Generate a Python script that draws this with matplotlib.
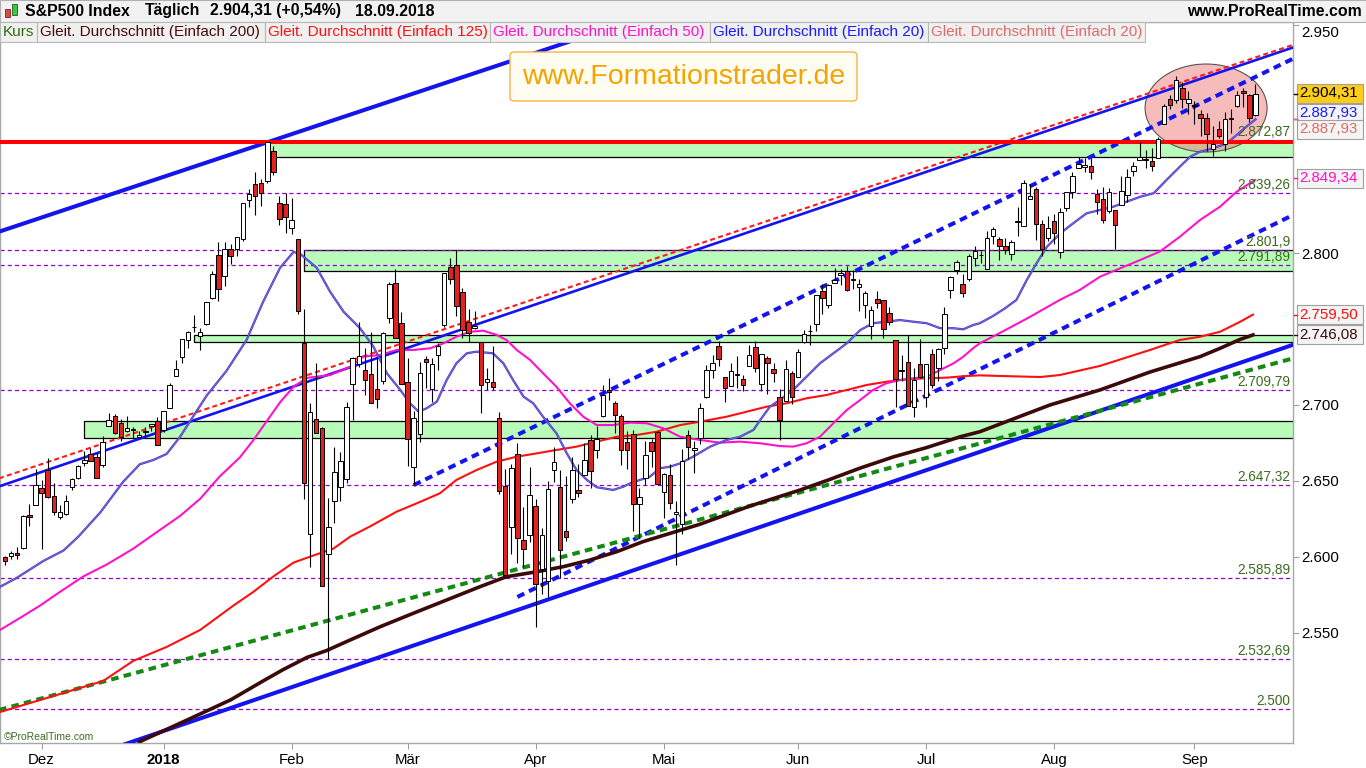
# S&P500 Tageschart 22.11.2017 - 18.09.2018 (ProRealTime-Stil)

import numpy as np
import pandas as pd
import matplotlib
matplotlib.use("Agg")
import matplotlib.pyplot as plt
import matplotlib.transforms as mtransforms
from matplotlib.patches import Rectangle, Ellipse, FancyBboxPatch

plt.rcParams['font.family'] = ['Liberation Sans', 'DejaVu Sans']
plt.rcParams['lines.scale_dashes'] = False

# Handelstage
feiertage = ["2017-11-23", "2017-12-25", "2018-01-01", "2018-01-15", "2018-02-19",
             "2018-03-30", "2018-05-28", "2018-07-04", "2018-09-03"]
tage = pd.bdate_range("2017-11-22", "2018-09-18", freq="C", holidays=feiertage)

# Kurse (Eroeffnung, Hoch, Tief, Schluss) pro Monat
eroeffnung = [
    2600.3, 2600.4, 2602.7, 2605.9, 2627.8, 2633.9,
    2645.1, 2657.2, 2639.8, 2626.2, 2628.4, 2646.2, 2652.2, 2661.7, 2667.6, 2665.9, 2660.6, 2685.9, 2692.7, 2688.2, 2683.0, 2684.2, 2679.1, 2682.1, 2686.1, 2689.2,
    2683.7, 2697.9, 2719.3, 2731.3, 2742.7, 2751.2, 2745.6, 2753.0, 2770.2, 2799.0, 2785.0, 2802.4, 2802.6, 2809.2, 2835.1, 2845.4, 2846.2, 2847.5, 2867.2, 2832.7, 2832.4,
    2816.5, 2808.9, 2741.1, 2614.8, 2691.0, 2685.0, 2601.8, 2636.8, 2646.3, 2651.2, 2713.5, 2727.1, 2723.0, 2720.5, 2710.4, 2715.8, 2757.4, 2780.5, 2753.8,
    2715.2, 2658.9, 2681.1, 2730.2, 2710.2, 2732.8, 2752.9, 2790.5, 2792.3, 2774.1, 2754.3, 2750.6, 2741.4, 2715.1, 2715.0, 2691.4, 2646.7, 2619.4, 2667.6, 2611.3, 2614.4,
    2633.5, 2592.2, 2584.0, 2657.4, 2645.8, 2617.2, 2638.4, 2643.9, 2653.8, 2676.9, 2670.1, 2692.7, 2710.1, 2701.2, 2692.6, 2675.4, 2680.8, 2634.9, 2651.7, 2675.5, 2682.5,
    2643.0, 2654.2, 2628.1, 2621.5, 2680.3, 2670.3, 2678.1, 2705.0, 2722.7, 2738.5, 2718.6, 2712.6, 2719.7, 2717.4, 2725.7, 2738.3, 2714.0, 2730.9, 2723.6, 2705.1, 2702.4, 2721.0,
    2718.7, 2741.7, 2748.5, 2753.3, 2774.8, 2765.8, 2780.2, 2785.6, 2787.9, 2783.2, 2777.8, 2765.8, 2752.0, 2769.7, 2769.3, 2760.8, 2742.9, 2722.1, 2728.5, 2698.7, 2727.1,
    2705.0, 2733.3, 2724.2, 2737.7, 2775.6, 2788.6, 2779.8, 2783.1, 2796.9, 2798.4, 2789.3, 2811.4, 2809.4, 2804.6, 2799.2, 2820.7, 2817.7, 2835.5, 2842.4, 2819.0, 2809.7,
    2821.2, 2800.5, 2829.6, 2840.3, 2855.9, 2856.8, 2857.2, 2838.9, 2835.5, 2827.9, 2828.0, 2831.4, 2838.3, 2853.9, 2861.5, 2861.0, 2860.3, 2862.4, 2884.7, 2901.5, 2900.6, 2908.9, 2898.4,
    2897.0, 2891.6, 2888.6, 2868.3, 2881.4, 2871.6, 2888.3, 2896.9, 2906.4, 2903.8, 2890.7,
]
hoch = [
    2600.9, 2604.2, 2606.4, 2627.7, 2634.9, 2657.7,
    2650.6, 2665.2, 2648.7, 2634.4, 2640.9, 2651.7, 2660.3, 2669.7, 2671.9, 2668.1, 2679.6, 2695.0, 2694.4, 2691.0, 2692.6, 2685.4, 2682.7, 2685.6, 2687.7, 2692.1,
    2695.9, 2714.4, 2729.3, 2743.5, 2748.5, 2759.1, 2750.8, 2767.6, 2787.9, 2807.5, 2807.0, 2805.8, 2810.3, 2833.0, 2842.2, 2853.0, 2848.6, 2872.9, 2870.6, 2837.8, 2839.3,
    2836.0, 2808.9, 2763.4, 2701.0, 2727.7, 2685.3, 2638.7, 2672.6, 2668.8, 2702.1, 2731.5, 2754.4, 2737.6, 2747.8, 2731.3, 2747.8, 2780.6, 2789.2, 2761.5,
    2730.9, 2696.3, 2728.1, 2732.1, 2730.6, 2740.5, 2786.6, 2797.0, 2801.9, 2777.1, 2763.0, 2761.9, 2741.4, 2724.2, 2739.1, 2695.7, 2657.7, 2661.4, 2674.8, 2632.7, 2659.1,
    2638.3, 2619.1, 2649.9, 2672.1, 2656.9, 2653.6, 2665.5, 2661.4, 2674.7, 2680.3, 2686.5, 2713.3, 2717.5, 2702.8, 2693.9, 2682.9, 2683.6, 2645.3, 2676.5, 2677.4, 2682.9,
    2655.3, 2660.9, 2637.1, 2670.9, 2683.4, 2676.3, 2701.3, 2726.1, 2732.9, 2742.1, 2718.6, 2727.8, 2732.0, 2719.5, 2739.2, 2742.2, 2733.3, 2732.0, 2727.4, 2710.7, 2729.3, 2722.5,
    2736.9, 2749.2, 2752.6, 2772.4, 2779.9, 2779.4, 2790.2, 2789.8, 2791.5, 2789.1, 2782.8, 2775.0, 2765.1, 2774.9, 2769.3, 2764.2, 2742.9, 2732.9, 2746.1, 2724.3, 2743.3,
    2727.3, 2736.6, 2737.8, 2764.4, 2784.7, 2795.6, 2785.9, 2799.2, 2804.5, 2801.2, 2814.2, 2816.8, 2810.5, 2809.7, 2808.6, 2830.0, 2848.0, 2845.6, 2843.2, 2821.7, 2824.5,
    2825.8, 2829.9, 2840.4, 2853.3, 2863.4, 2862.4, 2862.5, 2842.2, 2843.4, 2843.1, 2828.0, 2850.5, 2855.6, 2859.8, 2873.2, 2867.5, 2868.8, 2876.2, 2898.3, 2903.8, 2916.5, 2912.5, 2906.3,
    2900.2, 2894.2, 2892.1, 2883.8, 2886.9, 2892.5, 2894.7, 2906.8, 2908.3, 2904.7, 2911.2,
]
tief = [
    2594.9, 2598.5, 2598.9, 2605.4, 2620.3, 2633.9,
    2605.5, 2639.0, 2627.7, 2624.8, 2627.6, 2644.1, 2651.5, 2659.8, 2662.9, 2652.0, 2659.1, 2685.9, 2680.7, 2676.1, 2682.4, 2678.1, 2678.0, 2678.9, 2682.7, 2673.6,
    2682.4, 2697.8, 2719.1, 2727.9, 2737.6, 2747.9, 2736.1, 2752.8, 2769.6, 2768.6, 2778.4, 2792.6, 2798.1, 2808.1, 2830.6, 2824.8, 2830.9, 2846.2, 2851.5, 2818.3, 2813.0,
    2812.7, 2760.0, 2638.2, 2593.1, 2681.3, 2580.6, 2532.7, 2622.5, 2637.1, 2648.9, 2689.8, 2725.1, 2706.8, 2701.3, 2697.8, 2713.7, 2753.8, 2744.2, 2713.5,
    2659.7, 2647.3, 2675.8, 2711.3, 2701.7, 2722.7, 2751.5, 2779.3, 2758.7, 2744.4, 2741.5, 2750.0, 2694.6, 2710.1, 2709.8, 2641.6, 2585.9, 2601.8, 2596.1, 2593.1, 2609.7,
    2553.8, 2575.5, 2573.6, 2649.6, 2586.3, 2610.8, 2635.8, 2639.3, 2653.8, 2645.1, 2665.2, 2692.1, 2703.6, 2681.9, 2660.6, 2658.0, 2617.3, 2612.7, 2647.2, 2659.0, 2648.0,
    2625.4, 2631.7, 2594.6, 2615.3, 2664.7, 2655.2, 2674.1, 2704.5, 2717.5, 2725.5, 2701.9, 2712.2, 2711.4, 2709.2, 2725.7, 2721.9, 2709.5, 2707.4, 2715.0, 2676.8, 2702.4, 2700.7,
    2718.7, 2740.5, 2739.5, 2748.5, 2760.2, 2763.6, 2780.2, 2778.8, 2774.7, 2776.5, 2761.7, 2757.1, 2743.2, 2763.9, 2744.4, 2752.7, 2698.7, 2715.6, 2699.4, 2692.0, 2718.0,
    2699.0, 2711.2, 2716.0, 2733.5, 2770.7, 2786.2, 2770.8, 2781.5, 2791.7, 2793.4, 2789.2, 2805.9, 2795.6, 2799.6, 2795.1, 2811.1, 2817.7, 2835.3, 2808.3, 2798.1, 2808.1,
    2805.9, 2796.9, 2827.4, 2836.0, 2855.9, 2853.1, 2848.6, 2825.8, 2819.9, 2826.6, 2802.5, 2831.4, 2833.7, 2850.6, 2861.3, 2856.1, 2854.0, 2862.4, 2884.7, 2895.0, 2898.4, 2895.2, 2891.7,
    2885.1, 2876.9, 2867.3, 2864.1, 2875.9, 2866.8, 2879.2, 2896.4, 2895.8, 2886.2, 2890.4,
]
schluss = [
    2597.1, 2602.4, 2601.4, 2627.0, 2626.1, 2647.6,
    2642.2, 2639.4, 2629.6, 2629.3, 2636.9, 2651.5, 2660.0, 2664.1, 2662.9, 2652.0, 2675.8, 2690.2, 2681.5, 2679.1, 2684.6, 2683.3, 2680.5, 2682.6, 2687.5, 2673.6,
    2695.8, 2713.1, 2724.0, 2743.2, 2747.7, 2751.3, 2748.2, 2767.6, 2786.2, 2776.4, 2802.6, 2798.0, 2810.3, 2833.0, 2839.1, 2837.5, 2839.3, 2872.9, 2853.5, 2822.4, 2823.8,
    2822.0, 2762.1, 2648.9, 2695.1, 2681.7, 2581.0, 2619.6, 2656.0, 2662.9, 2698.6, 2731.2, 2732.2, 2716.3, 2701.3, 2704.0, 2747.3, 2779.6, 2744.3, 2713.8,
    2677.7, 2691.3, 2720.9, 2728.1, 2726.8, 2739.0, 2786.6, 2783.0, 2765.3, 2749.5, 2747.3, 2752.0, 2712.9, 2716.9, 2711.9, 2643.7, 2588.3, 2658.6, 2612.6, 2605.0, 2640.9,
    2581.9, 2614.5, 2644.7, 2662.8, 2604.5, 2613.2, 2656.9, 2642.2, 2664.0, 2656.3, 2677.8, 2706.4, 2708.6, 2693.1, 2670.1, 2670.3, 2634.6, 2639.4, 2666.9, 2669.9, 2648.1,
    2654.8, 2635.7, 2629.7, 2663.4, 2672.6, 2671.9, 2697.8, 2723.1, 2727.7, 2730.1, 2711.5, 2722.5, 2720.1, 2713.0, 2733.0, 2724.4, 2733.3, 2727.8, 2721.3, 2689.9, 2724.0, 2705.3,
    2734.6, 2746.9, 2748.8, 2772.4, 2770.4, 2779.0, 2782.0, 2786.9, 2775.6, 2782.5, 2779.7, 2773.8, 2762.6, 2767.3, 2749.8, 2754.9, 2717.1, 2723.1, 2699.6, 2716.3, 2718.4,
    2726.7, 2713.2, 2736.6, 2759.8, 2784.2, 2793.8, 2774.0, 2798.3, 2801.3, 2798.4, 2809.6, 2815.6, 2804.5, 2801.8, 2807.0, 2820.4, 2846.1, 2837.4, 2818.8, 2802.6, 2816.3,
    2813.4, 2827.2, 2840.4, 2850.4, 2858.5, 2857.7, 2853.6, 2833.3, 2821.9, 2840.0, 2818.4, 2840.7, 2850.1, 2857.1, 2863.0, 2861.8, 2857.0, 2874.7, 2896.7, 2897.5, 2914.0, 2901.1, 2901.5,
    2896.7, 2888.6, 2878.1, 2871.7, 2877.1, 2887.9, 2888.9, 2904.2, 2905.0, 2888.8, 2904.3,
]

# Gleitende Durchschnitte (Handelstag-Nr., Wert)
ma20_x = [-0.8, 1.9, 6.3, 9.6, 12.0, 15.6, 19.4, 22.1, 24.3, 26.5, 28.7, 30.9, 33.1, 36.3, 39.6, 42.3, 45.1, 47.3, 48.4, 51.1,
          53.3, 55.5, 58.2, 60.4, 62.6, 64.8, 66.4, 67.8, 69.1, 70.8, 72.4, 74.0, 75.7, 77.3, 80.0, 81.7, 83.3, 85.0, 86.6, 88.2,
          90.4, 92.1, 93.7, 95.4, 97.0, 99.7, 101.4, 102.5, 104.1, 105.7, 107.4, 109.0, 110.7, 112.8, 115.6, 118.3, 120.5, 122.7, 123.8, 125.4,
          127.0, 129.2, 131.4, 133.6, 135.8, 138.0, 140.2, 142.3, 144.5, 146.7, 148.9, 151.1, 153.3, 155.5, 157.1, 158.7, 159.8, 162.0, 164.0, 165.8,
          167.5, 169.1, 170.8, 173.0, 175.1, 177.3, 179.5, 181.7, 183.9, 186.1, 188.3, 190.4, 192.6, 194.3, 195.9, 198.1, 200.3, 201.9, 203.5, 205.0]
ma20_y = [2580.4, 2586.2, 2597.4, 2604.3, 2613.3, 2629.2, 2649.6, 2661.0, 2663.8, 2667.8, 2679.1, 2692.8, 2706.4, 2722.4, 2742.8, 2767.8, 2790.3, 2800.7, 2799.4, 2790.3,
          2774.5, 2761.4, 2750.5, 2738.4, 2720.9, 2709.9, 2701.1, 2695.6, 2697.8, 2702.2, 2716.4, 2727.4, 2734.0, 2735.1, 2734.0, 2727.4, 2716.4, 2705.5, 2701.1, 2692.3,
          2681.4, 2668.2, 2657.2, 2650.7, 2645.9, 2644.1, 2646.3, 2648.5, 2650.7, 2652.8, 2658.4, 2659.4, 2661.6, 2666.0, 2672.6, 2677.0, 2679.1, 2683.6, 2690.1, 2698.9,
          2703.3, 2709.9, 2718.6, 2727.4, 2734.0, 2740.6, 2749.3, 2753.8, 2754.8, 2755.9, 2754.8, 2753.8, 2750.5, 2750.5, 2749.8, 2752.6, 2753.8, 2758.6, 2763.8, 2769.1,
          2782.2, 2793.2, 2804.1, 2813.0, 2819.5, 2826.1, 2828.3, 2830.5, 2833.8, 2837.0, 2839.3, 2848.0, 2856.8, 2863.4, 2866.6, 2868.9, 2872.2, 2877.6, 2883.1, 2887.9]

ma50_x = [-0.8, 2.5, 5.7, 9.0, 12.8, 16.7, 21.0, 25.4, 28.7, 32.0, 35.2, 38.5, 40.7, 42.9, 45.1, 47.3, 49.5, 51.6, 53.3, 56.6,
          58.7, 61.5, 64.2, 66.9, 69.7, 71.9, 74.0, 76.2, 78.4, 80.6, 82.2, 83.9, 86.1, 88.2, 90.4, 92.6, 94.8, 97.0, 99.7, 102.5,
          105.2, 107.9, 110.7, 113.9, 117.2, 120.5, 123.8, 127.0, 129.2, 131.4, 133.6, 135.8, 138.0, 140.2, 142.3, 144.5, 146.7, 148.9, 151.1, 153.3,
          155.5, 157.1, 158.7, 159.8, 163.1, 168.0, 172.9, 176.2, 179.5, 182.8, 186.1, 189.3, 192.6, 195.9, 199.2, 201.9, 204.9]
ma50_y = [2552.0, 2560.0, 2567.9, 2577.0, 2587.1, 2595.1, 2605.4, 2617.8, 2627.0, 2638.3, 2653.0, 2665.5, 2676.8, 2689.3, 2701.8, 2712.0, 2717.8, 2718.9, 2719.7, 2725.2,
          2731.8, 2732.9, 2736.2, 2736.2, 2737.3, 2740.6, 2744.9, 2748.2, 2748.9, 2746.1, 2742.8, 2736.2, 2729.6, 2720.9, 2712.0, 2701.1, 2692.3, 2686.8, 2686.8, 2688.4,
          2688.0, 2684.7, 2679.1, 2677.0, 2675.2, 2675.9, 2674.8, 2673.0, 2672.6, 2674.8, 2679.1, 2688.0, 2696.7, 2703.3, 2709.9, 2714.3, 2716.4, 2717.6, 2718.6, 2723.0,
          2727.4, 2731.8, 2737.3, 2740.6, 2747.4, 2757.9, 2769.1, 2775.7, 2784.4, 2789.9, 2795.4, 2800.9, 2810.7, 2821.7, 2830.5, 2840.3, 2848.0]

ma125_x = [-0.8, 7.4, 16.1, 21.0, 26.5, 32.0, 37.4, 40.7, 44.0, 47.3, 50.5, 53.8, 56.6, 59.8, 64.2, 67.5, 71.3, 74.0, 77.3, 80.6,
           83.9, 87.2, 90.4, 93.7, 97.0, 100.3, 103.6, 106.8, 110.7, 113.9, 118.3, 121.6, 124.9, 128.1, 131.4, 134.7, 138.0, 141.3, 144.5, 147.8,
           151.1, 154.4, 157.7, 159.8, 163.1, 169.7, 172.9, 179.5, 187.7, 192.6, 195.9, 199.2, 202.5, 204.6]
ma125_y = [2498.0, 2507.9, 2518.4, 2531.6, 2540.8, 2552.0, 2567.9, 2577.0, 2587.2, 2596.3, 2600.9, 2605.4, 2613.4, 2620.0, 2629.8, 2635.3, 2641.9, 2650.7, 2657.2, 2662.7,
           2666.0, 2668.2, 2670.4, 2672.6, 2675.9, 2679.1, 2680.3, 2682.4, 2686.8, 2689.0, 2692.3, 2695.6, 2698.9, 2701.1, 2704.4, 2706.6, 2709.9, 2713.2, 2715.3, 2716.9,
           2717.6, 2718.0, 2719.1, 2719.5, 2719.1, 2718.4, 2719.7, 2725.7, 2736.2, 2742.8, 2744.9, 2748.2, 2754.8, 2759.5]

ma200_x = [22.0, 30.0, 37.0, 42.3, 45.6, 49.5, 52.7, 56.6, 61.5, 66.9, 72.4, 77.9, 82.2, 87.2, 91.5, 95.9, 100.3, 104.6, 109.0, 113.9,
           122.1, 130.3, 135.2, 140.2, 145.6, 151.1, 156.6, 159.8, 171.3, 179.5, 187.7, 195.9, 199.2, 202.5, 204.6]
ma200_y = [2478.3, 2493.0, 2506.0, 2518.4, 2525.9, 2533.9, 2538.4, 2545.4, 2554.1, 2562.9, 2571.7, 2580.5, 2587.0, 2590.3, 2593.6, 2598.0, 2603.5, 2610.1, 2615.5, 2621.5,
           2633.5, 2644.0, 2651.0, 2658.5, 2665.8, 2672.0, 2679.1, 2682.4, 2700.0, 2709.9, 2721.7, 2731.8, 2737.3, 2743.2, 2746.1]

# Trendlinien (Start-/Endpunkt: Handelstag, Kurs)
kanal_oben = ([-1, 110], [2814.0, 2962.5])
linie_mitte = ([-1, 212], [2646.4, 2936.4])
linie_rot = ([-1, 212], [2651.7, 2938.1])
gestr_oben = ([67, 212], [2647.3, 2929.5])
gestr_unten = ([84, 212], [2573.7, 2826.7])
kanal_unten = ([15, 212], [2470.4, 2740.8])
linie_gruen = ([-1, 212], [2499.3, 2731.6])

# Unterstuetzungszonen
zonen_start = [42.9, 49.0, 31.0, 13.0]
zonen_unten = [2863.5, 2788.0, 2741.6, 2678.0]
zonen_oben = [2872.87, 2801.9, 2745.8, 2689.5]

# Horizontale Marken
widerstand = 2872.87
niveaus = [2839.26, 2801.9, 2791.89, 2709.79, 2647.32, 2585.89, 2532.69, 2500.0]
niveau_texte = ["2.839,26", "2.801,9", "2.791,89", "2.709,79", "2.647,32", "2.585,89", "2.532,69", "2.500"]

monats_texte = ["Dez", "2018", "Feb", "Mär", "Apr", "Mai", "Jun", "Jul", "Aug", "Sep"]
# sichtbare Skalenwerte (die uebrigen liegen unter den Wertkaesten)
y_ticks = [2550, 2600, 2650, 2700, 2800, 2950]

# Wertkaesten rechts
rechts_werte = [2904.31, 2887.93, 2887.93, 2849.34, 2759.50, 2746.08]
rechts_farben = ["black", "#1a1aff", "#e06a6a", "#ff11cc", "#ff1010", "#3d0a0a"]
rechts_versatz = [-1, -6, 10, 0, 0, 0]


def deutsch(v, nd):
    s = f"{v:,.{nd}f}"
    return s.replace(",", "X").replace(".", ",").replace("X", ".")


W, H = 1366, 768
fig = plt.figure(figsize=(W / 100, H / 100), dpi=100)
fig.patch.set_facecolor("white")


def fx(px):
    return px / W


def fy(py):
    return 1 - py / H


ax = fig.add_axes([0, fy(743), fx(1293), (743 - 22) / H])
ax.set_xlim(-0.82, 211.15)
ax.set_ylim(2477.6, 2952.0)
for s in ax.spines.values():
    s.set_color("#a8a8a8")
    s.set_linewidth(1)

n = len(schluss)
t = np.arange(n)
o = np.array(eroeffnung)
h = np.array(hoch)
l = np.array(tief)
c = np.array(schluss)

# Zonen
for x0, u, ob in zip(zonen_start, zonen_unten, zonen_oben):
    ax.add_patch(Rectangle((x0, u), 212 - x0, ob - u, facecolor="#b9fbb9",
                           edgecolor="black", linewidth=0.9, zorder=1))

# Niveaus
for v, txt in zip(niveaus, niveau_texte):
    ax.axhline(v, color="#9400d3", lw=0.9, ls=(0, (3.0, 2.2)), zorder=2)
    ax.annotate(txt, (1.0, v), xycoords=("axes fraction", "data"), xytext=(-2, 1),
                textcoords="offset points", ha="right", va="bottom",
                fontsize=9.8, color="#3d6b1f", zorder=6)
ax.annotate(deutsch(widerstand, 2), (1.0, widerstand), xycoords=("axes fraction", "data"),
            xytext=(-2, 2.5), textcoords="offset points", ha="right", va="bottom",
            fontsize=9.8, color="#3d6b1f", zorder=6)

# Ellipse
ax.add_patch(Ellipse((196.9, 2895.4), 20.0, 57.9, facecolor="#ee7272", alpha=0.48,
                     edgecolor="none", zorder=2.5))
ax.add_patch(Ellipse((196.9, 2895.4), 20.0, 57.9, facecolor="none",
                     edgecolor="#555555", linewidth=0.8, zorder=2.6))

# Trendlinien
blau = "#1414f0"
ax.plot(*kanal_oben, color=blau, lw=2.9, zorder=3)
ax.plot(*linie_mitte, color=blau, lw=1.9, zorder=3)
ax.plot(*linie_rot, color="#ff1a1a", lw=1.5, ls=(0, (3.6, 2.4)), zorder=3)
ax.plot(*gestr_oben, color=blau, lw=2.9, ls=(0, (5.5, 3.8)), zorder=3)
ax.plot(*gestr_unten, color=blau, lw=2.9, ls=(0, (5.5, 3.8)), zorder=3)
ax.plot(*kanal_unten, color=blau, lw=2.9, zorder=3)
ax.plot(*linie_gruen, color="#138a13", lw=2.9, ls=(0, (5.5, 3.8)), zorder=3)

# Gleitende Durchschnitte
ax.plot(ma200_x, ma200_y, color="#3d0a0a", lw=2.6, zorder=3.2)
ax.plot(ma125_x, ma125_y, color="#ff1010", lw=1.5, zorder=3.2)
ax.plot(ma50_x, ma50_y, color="#ff11cc", lw=1.5, zorder=3.2)
ax.plot(ma20_x, ma20_y, color="#2a3cf0", lw=1.6, zorder=3.3)
ax.plot(ma20_x, ma20_y, color="#e07a7a", lw=0.5, alpha=0.8, zorder=3.4)

# Widerstand
ax.axhline(widerstand, color="#ff0000", lw=2.9, zorder=3.5)

# Kerzen
farbe = np.where(c >= o, "white", "#e3221f")
ax.vlines(t, l, h, color="black", lw=0.8, zorder=4)
koerper = np.maximum(np.abs(c - o), 0.4)
ax.bar(t, koerper, bottom=np.minimum(o, c), width=0.74, color=farbe,
       edgecolor="black", linewidth=0.7, zorder=5)

# Achsen
monat = tage.month
monatsanfang = [i for i in range(1, n) if monat[i] != monat[i - 1]]
ax.set_xticks(monatsanfang)
ax.set_xticklabels(monats_texte)
ax.get_xticklabels()[1].set_fontweight("bold")
ax.tick_params(axis="x", length=4, color="#a0a0a0", pad=3, labelsize=10.8)
ax.yaxis.tick_right()
ax.set_yticks(y_ticks)
ax.set_yticklabels([deutsch(v, 0) for v in y_ticks])
ax.tick_params(axis="y", length=4, color="#a0a0a0", pad=2, labelsize=10.8)
oberstes = ax.get_yticklabels()[-1]
oberstes.set_transform(oberstes.get_transform() +
                       mtransforms.ScaledTranslation(0, -6 / 100, fig.dpi_scale_trans))

# Wertkaesten rechts
for v, fa, dv in zip(rechts_werte, rechts_farben, rechts_versatz):
    yp = ax.transData.transform((0, v))[1] - dv
    gold = fa == "black"
    fig.add_artist(Rectangle((fx(1297), (yp - 9.5) / H), 66 / W, 19 / H,
                             transform=fig.transFigure,
                             facecolor="#ffcc1a" if gold else "#f4f4f4",
                             edgecolor="#a0a0a0", linewidth=0.8, zorder=5))
    fig.text(fx(1299.5), yp / H, deutsch(v, 2), color=fa, fontsize=10.8,
             va="center", ha="left", zorder=6)
    yl = ax.transData.transform((0, v))[1]
    fig.add_artist(plt.Line2D([fx(1294), fx(1297)], [yl / H, yl / H],
                              transform=fig.transFigure, color=fa, lw=1, zorder=6))

# Titelzeile
fig.add_artist(Rectangle((0, fy(22)), 1, 22 / H, transform=fig.transFigure,
                         facecolor="#f2f2f2", edgecolor="#b0b0b0", linewidth=0.8, zorder=4))
fig.add_artist(Rectangle((fx(5), fy(17)), fx(5), 8 / H, transform=fig.transFigure,
                         facecolor="#e04848", edgecolor="#802020", linewidth=0.6, zorder=5))
fig.add_artist(Rectangle((fx(12), fy(15)), fx(5), 11 / H, transform=fig.transFigure,
                         facecolor="#3cc83c", edgecolor="#206020", linewidth=0.6, zorder=5))
titel = [("S&P500 Index", 25), ("Täglich", 145), ("2.904,31 (+0,54%)", 210), ("18.09.2018", 355)]
for txt, xp in titel:
    fig.text(fx(xp), fy(11), txt, fontsize=11.4, fontweight="bold", va="center", zorder=6)
fig.text(fx(1362), fy(11), "www.ProRealTime.com", fontsize=11.4, fontweight="bold",
         va="center", ha="right", zorder=6)

# Legendenzeile
legende = [("Kurs", "#2e6b0e", 0, 37),
           ("Gleit. Durchschnitt (Einfach 200)", "#4a0a0a", 37, 265),
           ("Gleit. Durchschnitt (Einfach 125)", "#ff1010", 265, 490),
           ("Gleit. Durchschnitt (Einfach 50)", "#ff11cc", 490, 710),
           ("Gleit. Durchschnitt (Einfach 20)", "#1a1aff", 710, 928),
           ("Gleit. Durchschnitt (Einfach 20)", "#e06a6a", 928, 1145)]
for txt, fa, x0, x1 in legende:
    fig.add_artist(Rectangle((fx(x0), fy(42)), (x1 - x0) / W, 20 / H, transform=fig.transFigure,
                             facecolor="#f0f0f0", edgecolor="#b8b8b8", linewidth=0.8, zorder=4))
    fig.text(fx(x0 + 3), fy(32), txt, color=fa, fontsize=11, va="center", zorder=6)

# Logo-Kasten
fig.add_artist(FancyBboxPatch((fx(510), fy(101)), 347 / W, 49 / H,
                              boxstyle="round,pad=0,rounding_size=0.004",
                              transform=fig.transFigure, facecolor="#fffdf2",
                              edgecolor="#f5b342", linewidth=1, zorder=4))
fig.text(fx(683.5), fy(77), "www.Formationstrader.de", color="#f5a300", fontsize=20.5,
         ha="center", va="center", zorder=6)

fig.text(fx(4), fy(737), "©ProRealTime.com", color="#3d6b1f", fontsize=7.5, va="center", zorder=6)

fig.savefig("out.png", dpi=100)
